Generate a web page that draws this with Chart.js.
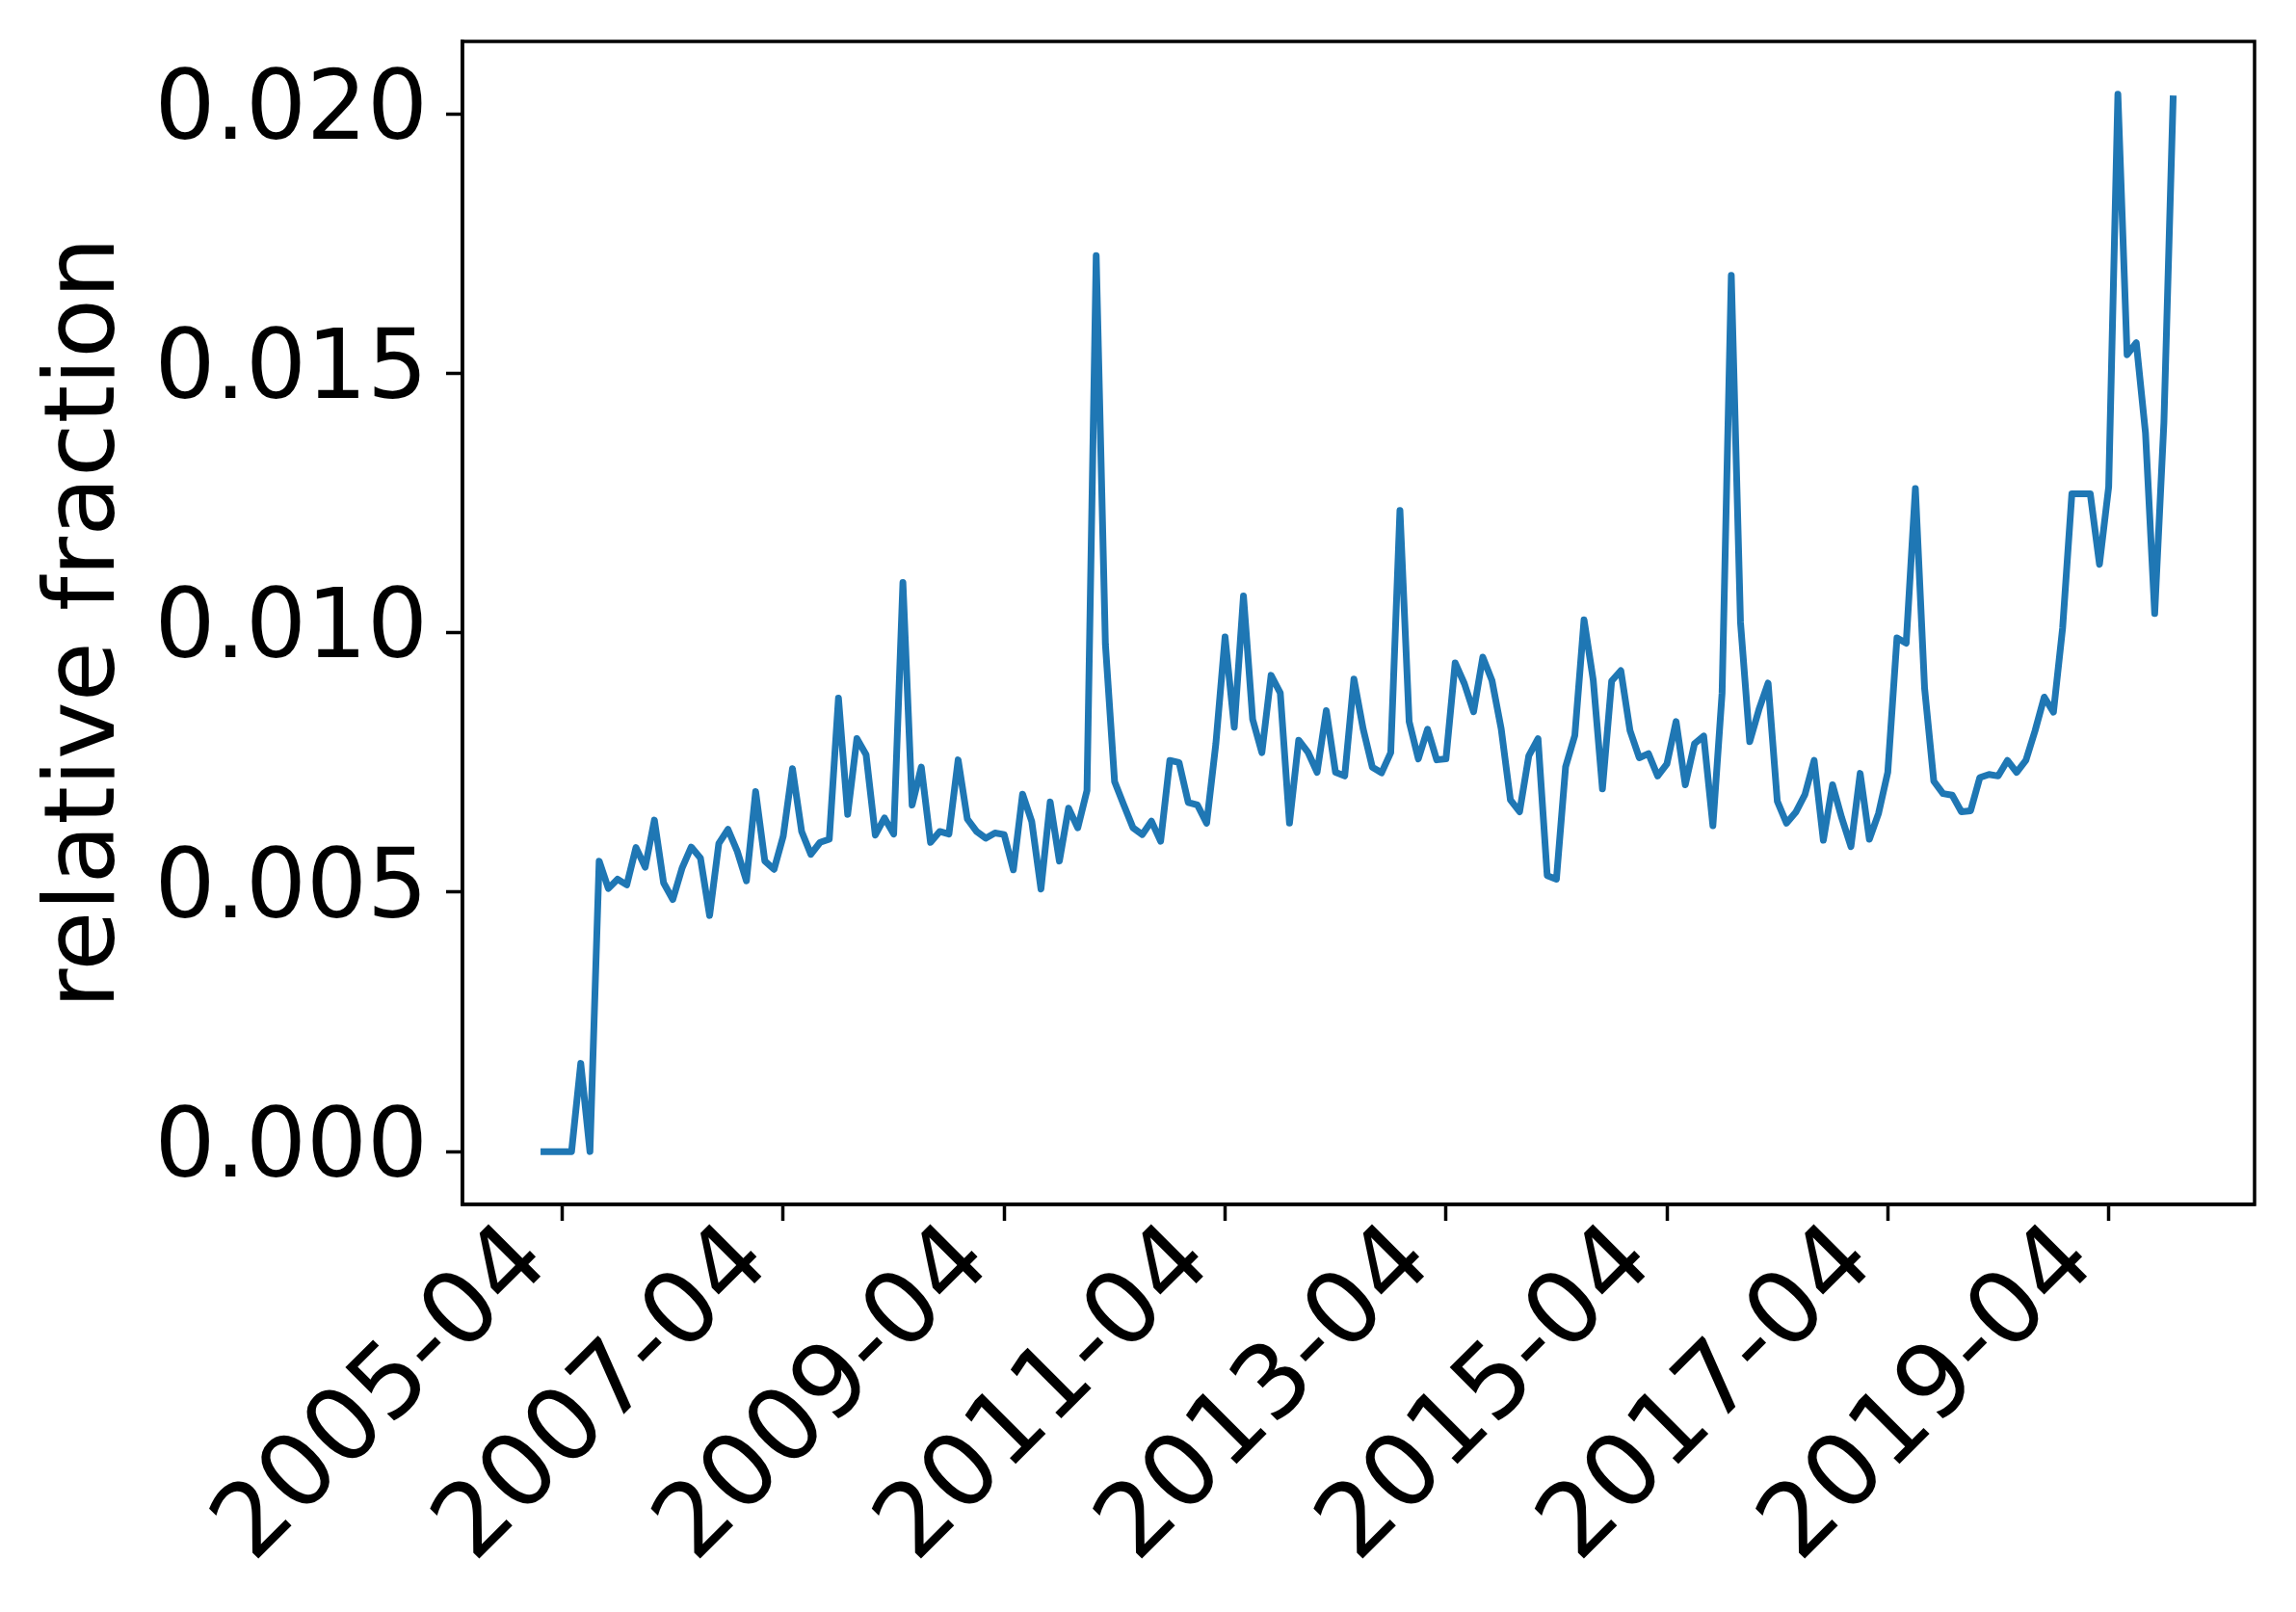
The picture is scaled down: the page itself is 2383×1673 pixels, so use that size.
<!DOCTYPE html>
<html><head><meta charset="utf-8">
<script src="https://cdn.jsdelivr.net/npm/chart.js@4.4.1/dist/chart.umd.min.js"></script>
<style>html,body{margin:0;padding:0;background:#fff;} #wrap{width:2383px;height:1673px;}</style>
</head><body><div id="wrap"><canvas id="c" width="2383" height="1673"></canvas></div>
<script>
// Categories: monthly, 2005-02 .. 2019-11
const firstYear = 2005, firstMonth = 2, monthCount = 178;
const months = [];
for (let i = 0; i < monthCount; i++) {
  const t = (firstMonth - 1) + i;
  const y = firstYear + Math.floor(t / 12), m = (t % 12) + 1;
  months.push(y + '-' + String(m).padStart(2, '0'));
}

// Series values
const values = [
  0, 0, 0, 0, 0.00170, 0, 0.00560, 0.00507, 0.00525, 0.00514, 0.00586, 0.00548,
  0.00639, 0.00518, 0.00486, 0.00546, 0.00587, 0.00566, 0.00455, 0.00594, 0.00621, 0.00579,
  0.00522, 0.00694, 0.00560, 0.00544, 0.00608, 0.00738, 0.00617, 0.00573, 0.00596, 0.00602,
  0.00874, 0.00650, 0.00796, 0.00765, 0.00610, 0.00643, 0.00612, 0.01097, 0.00668, 0.00741,
  0.00596, 0.00617, 0.00612, 0.00755, 0.00641, 0.00617, 0.00604, 0.00614, 0.00611, 0.00543,
  0.00689, 0.00636, 0.00506, 0.00674, 0.00560, 0.00662, 0.00624, 0.00696, 0.01727, 0.00978,
  0.00713, 0.00668, 0.00624, 0.00611, 0.00637, 0.00598, 0.00754, 0.00750, 0.00673, 0.00668,
  0.00633, 0.00786, 0.00992, 0.00818, 0.01071, 0.00833, 0.00769, 0.00918, 0.00884, 0.00633,
  0.00793, 0.00770, 0.00731, 0.00850, 0.00731, 0.00724, 0.00911, 0.00815, 0.00741, 0.00730,
  0.00769, 0.01236, 0.00829, 0.00757, 0.00814, 0.00755, 0.00757, 0.00942, 0.00902, 0.00848,
  0.00953, 0.00908, 0.00815, 0.00678, 0.00655, 0.00763, 0.00796, 0.00532, 0.00525, 0.00742,
  0.00802, 0.01025, 0.00909, 0.00699, 0.00907, 0.00927, 0.00811, 0.00759, 0.00767, 0.00724,
  0.00747, 0.00829, 0.00707, 0.00786, 0.00801, 0.00628, 0.00884, 0.01689, 0.01020, 0.00790,
  0.00852, 0.00903, 0.00675, 0.00633, 0.00654, 0.00688, 0.00754, 0.00600, 0.00707, 0.00643,
  0.00588, 0.00729, 0.00602, 0.00652, 0.00731, 0.00990, 0.00980, 0.01278, 0.00893, 0.00714,
  0.00690, 0.00687, 0.00655, 0.00657, 0.00721, 0.00727, 0.00724, 0.00754, 0.00731, 0.00754,
  0.00811, 0.00876, 0.00847, 0.01010, 0.01268, 0.01268, 0.01268, 0.01132, 0.01281, 0.02038,
  0.01536, 0.01559, 0.01385, 0.01037, 0.01405, 0.02029
];

const tickLabels = ['2005-04','2007-04','2009-04','2011-04','2013-04','2015-04','2017-04','2019-04'];
const yTicks = [0, 0.005, 0.010, 0.015, 0.020];
const yLabel = 'relative fraction';

const YFONT = {family: 'DejaVu Sans', size: 99};
const XFONT = {family: 'DejaVu Sans', size: 105};
const TFONT = {family: 'DejaVu Sans', size: 101};
const n = values.length;
const dataMax = Math.max(...values), dataMin = Math.min(...values);
const xMin = -0.05 * (n - 1), xMax = (n - 1) * 1.05;
const yMin = dataMin - 0.05 * (dataMax - dataMin), yMax = dataMax + 0.05 * (dataMax - dataMin);

const gridOpts = {drawOnChartArea: false, drawTicks: true, tickLength: 17, tickWidth: 3.5, tickColor: '#000', color: '#000'};
const borderOpts = {color: '#000', width: 3.5};
const zeroPad = s => { s.paddingTop = 0; s.paddingBottom = 0; s.paddingLeft = 0; s.paddingRight = 0; };

new Chart(document.getElementById('c').getContext('2d'), {
  type: 'line',
  data: {
    datasets: [{
      data: values.map((v, i) => ({x: i, y: v})),
      borderColor: '#1f77b4', borderWidth: 7, pointRadius: 0, tension: 0,
      borderJoinStyle: 'round', borderCapStyle: 'square', fill: false
    }]
  },
  options: {
    responsive: false, devicePixelRatio: 1, animation: false, events: [],
    layout: {padding: {top: 43, right: 43, left: 0, bottom: 0}},
    plugins: {legend: {display: false}, tooltip: {enabled: false}},
    scales: {
      x: {
        type: 'linear', min: xMin, max: xMax,
        afterBuildTicks: s => { s.ticks = tickLabels.map(l => ({value: months.indexOf(l)})); },
        ticks: {callback: v => months[v], autoSkip: false, maxRotation: 45, minRotation: 45,
                font: XFONT, color: '#000', padding: -18, labelOffset: -30},
        grid: gridOpts, border: borderOpts,
        afterFit: s => { s.height = 1673 - 1250; zeroPad(s); }
      },
      y: {
        type: 'linear', min: yMin, max: yMax,
        afterBuildTicks: s => { s.ticks = yTicks.map(v => ({value: v})); },
        ticks: {callback: v => v.toFixed(3), font: YFONT, color: '#000', padding: 19},
        grid: gridOpts, border: borderOpts,
        title: {display: true, text: yLabel, font: TFONT, color: '#000', padding: {top: 31, bottom: 0}},
        afterFit: s => { s.width = 480; zeroPad(s); }
      }
    }
  },
  plugins: [{
    id: 'frame',
    afterDraw(chart) {
      const {ctx, chartArea: a} = chart;
      ctx.save(); ctx.strokeStyle = '#000'; ctx.lineWidth = 3.5;
      ctx.strokeRect(a.left, a.top, a.right - a.left, a.bottom - a.top);
      ctx.restore();
    }
  }]
});
</script>
</body></html>
